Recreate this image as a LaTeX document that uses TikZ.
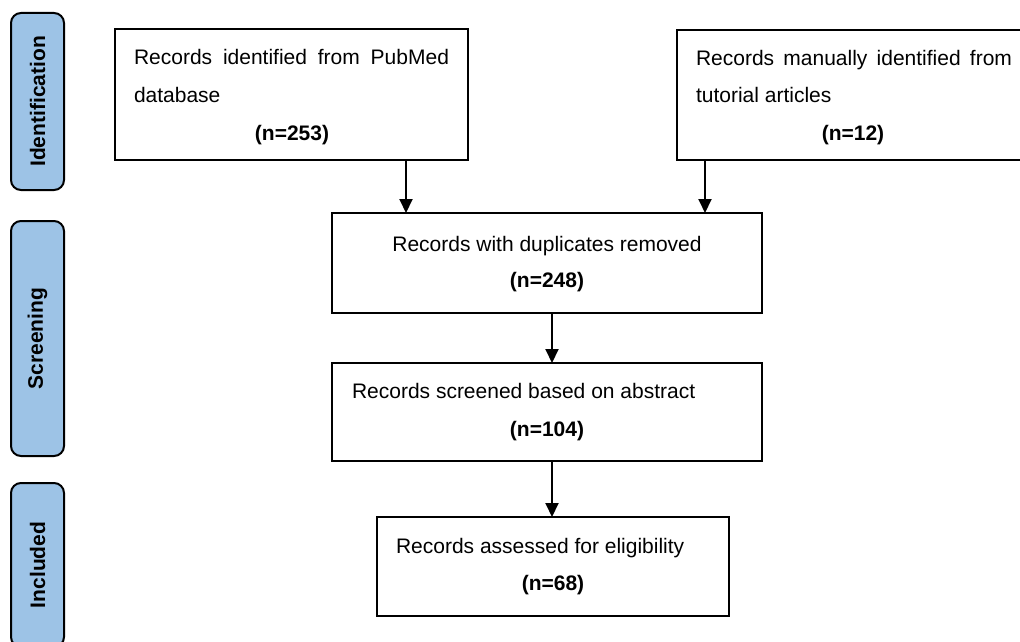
\documentclass[tikz,border=0pt]{standalone}
\usepackage{fontspec}
\setmainfont{Liberation Sans}
\usetikzlibrary{arrows.meta}
\definecolor{sideblue}{RGB}{157,195,230}
\tikzset{
  box/.style={draw=black, line width=2pt, inner sep=0pt, outer sep=0pt, fill=white},
  side/.style={draw=black, line width=2pt, fill=sideblue, rounded corners=10pt, inner sep=0pt, outer sep=0pt},
  sidelabel/.style={rotate=90, font=\fontsize{21}{25}\selectfont\bfseries, inner sep=0pt},
  txt/.style={font=\fontsize{21}{25}\selectfont, inner sep=0pt, outer sep=0pt},
  btxt/.style={font=\fontsize{21}{25}\selectfont\bfseries, inner sep=0pt, outer sep=0pt, anchor=base},
  arr/.style={line width=2pt, -{Triangle[length=14pt,width=13pt]}}
}
\begin{document}
\begin{tikzpicture}[x=1pt,y=-1pt]
\useasboundingbox (0,0) rectangle (1020,642);
\clip (0,0) rectangle (1020,642);
% side phase labels
\node[side, minimum width=53pt, minimum height=177pt] (s1) at (37.5,101.5) {};
\node[sidelabel] (l1) at (s1.center) {Identification};
\node[side, minimum width=53pt, minimum height=235pt] (s2) at (37.5,338.5) {};
\node[sidelabel] (l2) at (s2.center) {Screening};
\node[side, minimum width=53pt, minimum height=164pt] (s3) at (37.5,565) {};
\node[sidelabel] (l3) at (s3.center) {Included};
% boxes
\node[box, minimum width=353pt, minimum height=131pt] (b1) at (291.5,94.5) {};
\node[box, minimum width=352pt, minimum height=130pt] (b2) at (853,95) {};
\node[box, minimum width=430pt, minimum height=100pt] (b3) at (547,263) {};
\node[box, minimum width=430pt, minimum height=98pt] (b4) at (547,412) {};
\node[box, minimum width=352pt, minimum height=99pt] (b5) at (553,566.5) {};
% texts
\node[txt, anchor=base west] (t1a) at (134,65) {\hbox to 315pt{Records\hfill identified\hfill from\hfill PubMed}};
\node[txt, anchor=base west] (t1b) at (134,102) {database};
\node[btxt] (t1c) at (292,140) {(n=253)};
\node[txt, anchor=base west] (t2a) at (696,66) {\hbox to 316pt{Records\hfill manually\hfill identified\hfill from}};
\node[txt, anchor=base west] (t2b) at (696,102) {tutorial articles};
\node[btxt] (t2c) at (853,140) {(n=12)};
\node[txt, anchor=base] (t3a) at (547,251) {Records with duplicates removed};
\node[btxt] (t3b) at (547,287) {(n=248)};
\node[txt, anchor=base west] (t4a) at (352,398) {Records screened based on abstract};
\node[btxt] (t4b) at (547,436) {(n=104)};
\node[txt, anchor=base west] (t5a) at (396,553) {Records assessed for eligibility};
\node[btxt] (t5b) at (553,590) {(n=68)};
% connectors
\coordinate (x1) at (406,0);
\coordinate (x2) at (705,0);
\coordinate (x3) at (552,0);
\draw[arr] (b1.south -| x1) -- (b3.north -| x1);
\draw[arr] (b2.south -| x2) -- (b3.north -| x2);
\draw[arr] (b3.south -| x3) -- (b4.north -| x3);
\draw[arr] (b4.south -| x3) -- (b5.north -| x3);
\end{tikzpicture}
\end{document}
